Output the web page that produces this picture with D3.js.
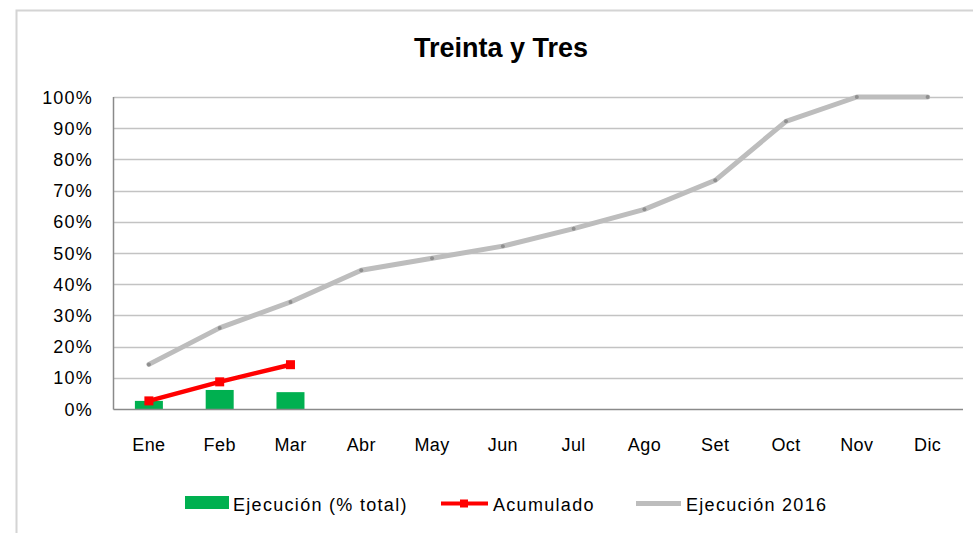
<!DOCTYPE html>
<html><head><meta charset="utf-8">
<script src="https://cdn.jsdelivr.net/npm/d3@7"></script>
<style>
html,body{margin:0;padding:0;background:#fff;}
svg{display:block;font-family:"Liberation Sans",Arial,sans-serif;}
</style></head>
<body>
<svg id="c" width="973" height="533"></svg>
<script>
const months = ["Ene","Feb","Mar","Abr","May","Jun","Jul","Ago","Set","Oct","Nov","Dic"];
const ejecucion = [2.6, 6.1, 5.4];            // Ejecución (% total)
const acumulado = [2.6, 8.7, 14.2];           // Acumulado
const ejec2016 = [14.3, 26, 34.3, 44.5, 48.3, 52.2, 57.8, 64, 73.3, 92.2, 100, 100]; // Ejecución 2016
const yTicks = [0,10,20,30,40,50,60,70,80,90,100];

const svg = d3.select("#c");
// outer frame
svg.append("rect").attr("x",16.5).attr("y",10.5).attr("width",1000).attr("height",600)
  .attr("fill","#fff").attr("stroke","#d4d4d4").attr("stroke-width",2);

const pLeft=113.5, pRight=963, pTop=97, pBottom=409;
const x = d3.scaleBand().domain(months).range([pLeft,pRight]);
const y = d3.scaleLinear().domain([0,100]).range([pBottom,pTop]);

// title
svg.append("text").attr("x",501).attr("y",57).attr("text-anchor","middle")
  .attr("font-size",27).attr("font-weight","bold").attr("fill","#000").text("Treinta y Tres");

// gridlines
svg.append("g").selectAll("line").data(yTicks.filter(d=>d>0)).join("line")
  .attr("x1",pLeft).attr("x2",pRight).attr("y1",d=>Math.round(y(d))+0.5).attr("y2",d=>Math.round(y(d))+0.5)
  .attr("stroke","#c3c3c3").attr("stroke-width",1.5);

// y labels
svg.append("g").selectAll("text").data(yTicks).join("text")
  .attr("x",93).attr("y",d=>y(d)+6.5).attr("text-anchor","end")
  .attr("font-size",18).attr("letter-spacing",1.2).attr("fill","#000").text(d=>d+"%");

// x labels
svg.append("g").selectAll("text").data(months).join("text")
  .attr("x",d=>x(d)+x.bandwidth()/2).attr("y",451).attr("text-anchor","middle")
  .attr("font-size",18).attr("letter-spacing",0.4).attr("fill","#000").text(d=>d);

// bars
const bw = 28;
svg.append("g").selectAll("rect").data(ejecucion).join("rect")
  .attr("x",(d,i)=>x(months[i])+x.bandwidth()/2-bw/2).attr("width",bw)
  .attr("y",d=>y(d)).attr("height",d=>pBottom-y(d)+1).attr("fill","#00b050");

// axes lines
svg.append("line").attr("x1",pLeft).attr("x2",pLeft).attr("y1",pTop).attr("y2",pBottom+0.5)
  .attr("stroke","#8a8a8a").attr("stroke-width",1.5);
svg.append("line").attr("x1",pLeft).attr("x2",pRight).attr("y1",pBottom+0.5).attr("y2",pBottom+0.5)
  .attr("stroke","#8a8a8a").attr("stroke-width",1.5);

const cx = i => x(months[i])+x.bandwidth()/2;
// gray line 2016
svg.append("path").datum(ejec2016)
  .attr("d",d3.line().x((d,i)=>cx(i)).y(d=>y(d)))
  .attr("fill","none").attr("stroke","#bdbdbd").attr("stroke-width",5).attr("stroke-linejoin","round").attr("stroke-linecap","round");
svg.append("g").selectAll("circle").data(ejec2016).join("circle")
  .attr("cx",(d,i)=>cx(i)).attr("cy",d=>y(d)).attr("r",2).attr("fill","#8f8f8f");

// red line acumulado
svg.append("path").datum(acumulado)
  .attr("d",d3.line().x((d,i)=>cx(i)).y(d=>y(d)))
  .attr("fill","none").attr("stroke","#ff0000").attr("stroke-width",4.5);
svg.append("g").selectAll("rect").data(acumulado).join("rect")
  .attr("x",(d,i)=>cx(i)-4.5).attr("y",d=>y(d)-4.5).attr("width",9).attr("height",9).attr("fill","#ff0000");

// legend
const lg = svg.append("g").attr("font-size",18).attr("letter-spacing",1.3);
lg.append("rect").attr("x",185).attr("y",496).attr("width",44).attr("height",13).attr("fill","#00b050");
lg.append("text").attr("x",233).attr("y",511).text("Ejecución (% total)");
lg.append("line").attr("x1",441).attr("x2",488).attr("y1",503.5).attr("y2",503.5).attr("stroke","#ff0000").attr("stroke-width",4);
lg.append("rect").attr("x",460).attr("y",499.5).attr("width",8).attr("height",8).attr("fill","#ff0000");
lg.append("text").attr("x",493).attr("y",511).text("Acumulado");
lg.append("line").attr("x1",636).attr("x2",681).attr("y1",503.5).attr("y2",503.5).attr("stroke","#bdbdbd").attr("stroke-width",5);
lg.append("text").attr("x",686).attr("y",511).text("Ejecución 2016");
</script>
</body></html>
